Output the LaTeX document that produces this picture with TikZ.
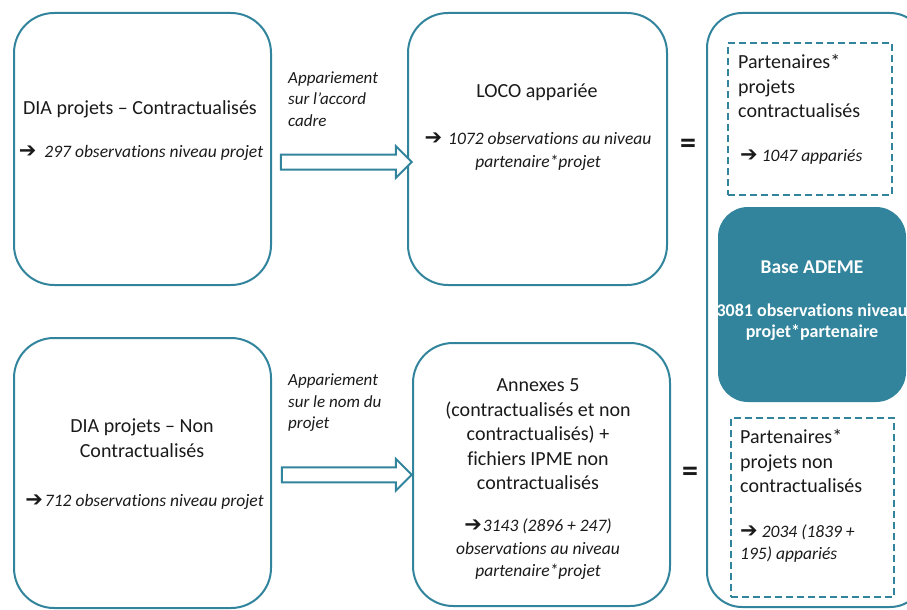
\documentclass[tikz,border=0pt]{standalone}
\usepackage{fontspec}
\setmainfont{Carlito}[Ligatures=NoCommon]
\newfontfamily\arrowfont{DejaVu Sans}
\usetikzlibrary{shapes.arrows,calc}

\definecolor{tealc}{HTML}{31849B}
\definecolor{inkc}{HTML}{1A1A1A}

% heavy arrow used in front of the counts
\newcommand{\obsarrow}{{\arrowfont\upshape\bfseries\fontsize{21}{21}\selectfont ➔}}

\begin{document}
\begin{tikzpicture}[x=1pt, y=-1pt,
    stagebox/.style={draw=tealc, line width=2pt, rounded corners=40pt, inner sep=0},
    partbox/.style={draw=tealc, line width=1.5pt, dash pattern=on 7pt off 4pt, inner sep=0},
    ademebox/.style={fill=tealc, rounded corners=30pt, inner sep=0},
    maintext/.style={font=\fontsize{20}{24.5}\selectfont, text=inkc, align=center, inner sep=0},
    obstext/.style={font=\fontsize{17.5}{22.5}\selectfont\itshape, text=inkc, align=center, inner sep=0},
    linktext/.style={font=\fontsize{17}{21.5}\selectfont\itshape, text=inkc, align=left, anchor=west, inner sep=0},
    ademetext/.style={font=\fontsize{18}{21}\selectfont\bfseries, text=white, align=center, inner sep=0},
    blockarrow/.style={single arrow, draw=tealc, line width=2pt, fill=white, inner sep=0,
        text height=13pt, text depth=0pt, single arrow head extend=8.5pt},
    eqtext/.style={font=\fontsize{32}{32}\selectfont\bfseries, text=inkc, inner sep=0}
    ]
    \clip (0,0) rectangle (907,610);

    % Boxes
    \node[stagebox, minimum width=257pt, minimum height=272pt] (diaA) at (142.5,149) {};
    \node[stagebox, minimum width=259pt, minimum height=272pt] (loco) at (537.5,149) {};
    \node[stagebox, minimum width=257pt, minimum height=270pt] (diaB) at (142.5,473) {};
    \node[stagebox, minimum width=257pt, minimum height=263pt] (annex) at (541.5,474.5) {};
    \node[stagebox, rounded corners=35pt, minimum width=218pt, minimum height=594pt] (base) at (816,310) {};
    \node[partbox, minimum width=164pt, minimum height=152pt] (partA) at (810,119) {};
    \node[ademebox, minimum width=188pt, minimum height=195pt] (ademe) at (812,304.5) {};
    \node[partbox, minimum width=163pt, minimum height=179pt] (partB) at (812.5,507.5) {};

    % Block arrows
    \node[blockarrow, minimum height=131pt] (arrA) at ($(diaA.east)!.5!(loco.west)+(3,13)$) {};
    \node[blockarrow, minimum height=130pt] (arrB) at ($(diaB.east)!.5!(annex.west)+(1,1)$) {};

    % Texts of the top row
    \node[maintext] (diaAt) at (140,109) {DIA projets – Contractualisés};
    \node[obstext] (diaAo) at (141,153) {\obsarrow\hspace{8pt}297 observations niveau projet};
    \node[linktext] (linkA) at (288,99) {Appariement\\sur l’accord\\cadre};
    \node[maintext] (locot) at (537,92) {LOCO appariée};
    \node[obstext] (locoo) at (538,151.5) {\obsarrow\hspace{6pt}1072 observations au niveau\\partenaire*projet};
    \node[eqtext] (eqA) at (688,146) {=};
    \node[maintext, align=left, anchor=west] (partAt) at (738,86) {Partenaires*\\projets\\contractualisés};
    \node[obstext, anchor=west] (partAo) at (740,157) {\obsarrow\hspace{4pt}1047 appariés};

    % Base ADEME
    \node[ademetext, font=\fontsize{19.5}{21}\selectfont\bfseries] (ademet) at (812,267) {Base ADEME};
    \node[ademetext] (ademeo) at (812,322.5) {3081 observations niveau\\projet*partenaire};

    % Texts of the bottom row
    \node[maintext] (diaBt) at (142,438) {DIA projets – Non\\Contractualisés};
    \node[obstext] (diaBo) at (144.5,502) {\obsarrow\hspace{2pt}712 observations niveau projet};
    \node[linktext] (linkB) at (288,403) {Appariement\\sur le nom du\\projet};
    \node[maintext] (annext) at (538,434.5) {Annexes 5\\(contractualisés et non\\contractualisés) +\\fichiers IPME non\\contractualisés};
    \node[obstext] (annexo) at (538,549.5) {\obsarrow\hspace{1pt}3143 (2896 + 247)\\observations au niveau\\partenaire*projet};
    \node[eqtext] (eqB) at (690,474) {=};
    \node[maintext, align=left, anchor=west] (partBt) at (740,461) {Partenaires*\\projets non\\contractualisés};
    \node[obstext, align=left, anchor=west] (partBo) at (740,543.5) {\obsarrow\hspace{4pt}2034 (1839 +\\195) appariés};
\end{tikzpicture}
\end{document}
